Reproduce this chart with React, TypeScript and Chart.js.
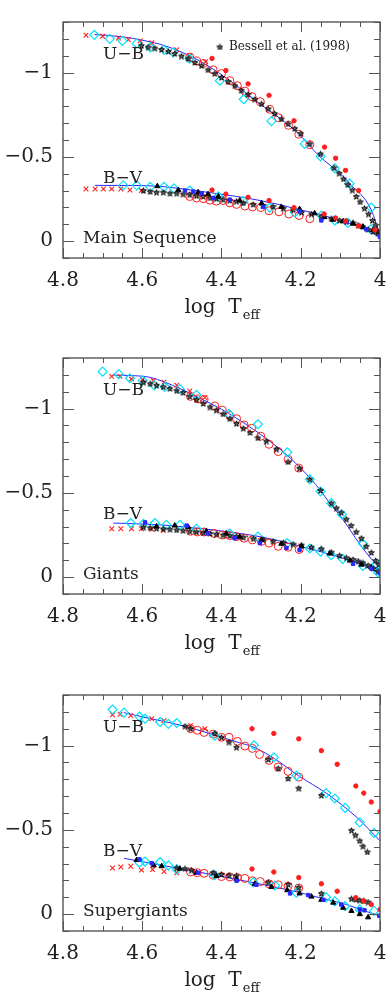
import React, { useEffect, useRef } from 'react';
import { Chart, registerables } from 'chart.js';
Chart.register(...registerables);

const FONT = '"DejaVu Serif", serif';
const RED = 'rgb(255,30,30)';
const CYAN = 'rgb(0,225,250)';
const BLUE = 'rgb(40,40,255)';
const FRAME = '#555';
const TEXT = '#222';

// ---------- axis ticks ----------
const xTickValues = [4.0, 4.05, 4.1, 4.15, 4.2, 4.25, 4.3, 4.35, 4.4, 4.45, 4.5, 4.55, 4.6, 4.65, 4.7, 4.75, 4.8];
const xLabeledTicks = [4.8, 4.6, 4.4, 4.2, 4.0];
const yTickValues = [-1.3, -1.2, -1.1, -1.0, -0.9, -0.8, -0.7, -0.6, -0.5, -0.4, -0.3, -0.2, -0.1, 0, 0.1];
const yLabeledTicks = [-1, -0.5, 0];

// ---------- Main Sequence ----------
const msUBLine = [[4.72,-1.226],[4.65,-1.212],[4.60,-1.192],[4.555,-1.168],[4.505,-1.126],[4.455,-1.069],[4.404,-0.994],[4.354,-0.908],[4.303,-0.814],[4.253,-0.73],[4.207,-0.64],[4.152,-0.502],[4.10,-0.40],[4.076,-0.341],[4.022,-0.185],[4.0,-0.03]];
const msUBCross = [[4.742,-1.221],[4.70,-1.215],[4.66,-1.205],[4.635,-1.196],[4.605,-1.188],[4.576,-1.177],[4.513,-1.135],[4.48,-1.098],[4.44,-1.064]];
const msUBDiamond = [[4.721,-1.224],[4.682,-1.20],[4.65,-1.188],[4.614,-1.173],[4.58,-1.149],[4.545,-1.135],[4.522,-1.12],[4.481,-1.082],[4.404,-0.952],[4.344,-0.842],[4.274,-0.712],[4.19,-0.577],[4.15,-0.502],[4.114,-0.432],[4.077,-0.341],[4.022,-0.199]];
const msUBCircle = [[4.48,-1.092],[4.463,-1.069],[4.446,-1.054],[4.421,-1.016],[4.40,-0.994],[4.379,-0.952],[4.36,-0.922],[4.341,-0.89],[4.323,-0.857],[4.302,-0.827],[4.278,-0.782],[4.256,-0.732],[4.231,-0.687],[4.205,-0.634],[4.177,-0.572]];
const msUBFilled = [[4.424,-1.084],[4.389,-1.012],[4.333,-0.933],[4.28,-0.865],[4.217,-0.714],[4.14,-0.558],[4.112,-0.492],[4.087,-0.42],[4.054,-0.30]];
const msUBStar = [[4.602,-1.16],[4.585,-1.151],[4.568,-1.145],[4.551,-1.137],[4.534,-1.126],[4.518,-1.113],[4.501,-1.098],[4.484,-1.082],[4.467,-1.06],[4.45,-1.041],[4.434,-1.016],[4.417,-0.994],[4.40,-0.971],[4.383,-0.946],[4.366,-0.922],[4.35,-0.895],[4.333,-0.871],[4.316,-0.842],[4.299,-0.814],[4.282,-0.785],[4.266,-0.757],[4.249,-0.725],[4.232,-0.695],[4.215,-0.668],[4.20,-0.638],[4.177,-0.577],[4.15,-0.517],[4.116,-0.435],[4.103,-0.403],[4.092,-0.369],[4.081,-0.335],[4.07,-0.303],[4.06,-0.265],[4.05,-0.233],[4.039,-0.195],[4.029,-0.161],[4.019,-0.123],[4.011,-0.095],[4.004,-0.057]];

const msBVLine = [[4.72,-0.331],[4.62,-0.33],[4.555,-0.325],[4.505,-0.312],[4.40,-0.278],[4.337,-0.256],[4.26,-0.22],[4.203,-0.186],[4.15,-0.158],[4.102,-0.123],[4.043,-0.078],[4.0,-0.022]];
const msBVCross = [[4.742,-0.309],[4.719,-0.309],[4.698,-0.309],[4.677,-0.309],[4.654,-0.309],[4.631,-0.303],[4.602,-0.30]];
const msBVDiamond = [[4.648,-0.331],[4.614,-0.331],[4.58,-0.322],[4.545,-0.322],[4.52,-0.313],[4.48,-0.30],[4.408,-0.265],[4.345,-0.237],[4.278,-0.199],[4.215,-0.171],[4.148,-0.152],[4.114,-0.123],[4.081,-0.108],[4.023,-0.07]];
const msBVCircle = [[4.48,-0.265],[4.463,-0.256],[4.446,-0.252],[4.429,-0.243],[4.413,-0.237],[4.396,-0.241],[4.379,-0.227],[4.362,-0.218],[4.341,-0.208],[4.322,-0.203],[4.301,-0.199],[4.28,-0.18],[4.255,-0.174],[4.23,-0.161],[4.204,-0.152],[4.177,-0.133]];
const msBVFilled = [[4.424,-0.303],[4.389,-0.279],[4.333,-0.26],[4.28,-0.241],[4.217,-0.199],[4.141,-0.161],[4.112,-0.137],[4.087,-0.119],[4.054,-0.09],[4.013,-0.067]];
const msBVTri = [[4.562,-0.326],[4.509,-0.303],[4.459,-0.29],[4.434,-0.279],[4.408,-0.265],[4.354,-0.241],[4.299,-0.224],[4.249,-0.203],[4.203,-0.19],[4.165,-0.165],[4.14,-0.142],[4.118,-0.127],[4.093,-0.118],[4.068,-0.104],[4.043,-0.085],[4.017,-0.067]];
const msBVSquare = [[4.492,-0.30],[4.471,-0.294],[4.45,-0.284],[4.421,-0.256],[4.379,-0.246],[4.295,-0.203],[4.203,-0.176],[4.148,-0.123],[4.085,-0.112],[4.035,-0.07],[4.0,-0.025]];
const msBVStar = [[4.597,-0.30],[4.58,-0.294],[4.564,-0.29],[4.547,-0.29],[4.53,-0.284],[4.513,-0.284],[4.497,-0.279],[4.48,-0.275],[4.463,-0.269],[4.446,-0.265],[4.429,-0.256],[4.413,-0.252],[4.396,-0.246],[4.379,-0.241],[4.362,-0.237],[4.345,-0.227],[4.32,-0.218],[4.295,-0.212],[4.27,-0.205],[4.244,-0.195],[4.219,-0.186],[4.198,-0.171],[4.173,-0.161],[4.148,-0.146],[4.123,-0.133],[4.102,-0.123],[4.085,-0.119],[4.068,-0.108],[4.055,-0.095],[4.043,-0.085],[4.03,-0.07],[4.017,-0.057],[4.005,-0.048]];

// ---------- Giants ----------
const giUBLine = [[4.673,-1.198],[4.62,-1.195],[4.58,-1.185],[4.505,-1.119],[4.455,-1.062],[4.40,-0.996],[4.329,-0.892],[4.253,-0.76],[4.20,-0.646],[4.15,-0.514],[4.127,-0.439],[4.10,-0.363],[4.05,-0.193],[4.018,-0.098],[4.0,-0.06]];
const giUBCross = [[4.677,-1.191],[4.656,-1.191],[4.627,-1.176],[4.599,-1.172],[4.572,-1.166],[4.545,-1.157],[4.513,-1.138],[4.48,-1.104],[4.442,-1.066]];
const giUBDiamond = [[4.70,-1.219],[4.659,-1.204],[4.631,-1.18],[4.599,-1.166],[4.57,-1.138],[4.543,-1.129],[4.505,-1.115],[4.463,-1.081],[4.381,-0.968],[4.308,-0.907],[4.234,-0.741],[4.177,-0.58],[4.15,-0.508],[4.123,-0.439],[4.096,-0.372],[4.043,-0.198],[4.009,-0.079]];
const giUBCircle = [[4.478,-1.072],[4.459,-1.057],[4.444,-1.053],[4.417,-1.015],[4.398,-0.991],[4.379,-0.958],[4.362,-0.94],[4.343,-0.902],[4.324,-0.883],[4.301,-0.836],[4.28,-0.788],[4.257,-0.745],[4.232,-0.699],[4.205,-0.647]];
const giUBStar = [[4.597,-1.157],[4.58,-1.147],[4.564,-1.138],[4.547,-1.129],[4.53,-1.119],[4.513,-1.106],[4.497,-1.095],[4.48,-1.072],[4.463,-1.053],[4.446,-1.03],[4.429,-1.009],[4.413,-0.991],[4.396,-0.968],[4.379,-0.94],[4.362,-0.911],[4.345,-0.883],[4.328,-0.858],[4.308,-0.826],[4.287,-0.807],[4.261,-0.76],[4.232,-0.684],[4.203,-0.646],[4.177,-0.58],[4.15,-0.514],[4.123,-0.439],[4.11,-0.41],[4.098,-0.382],[4.085,-0.344],[4.073,-0.306],[4.06,-0.268],[4.047,-0.231],[4.035,-0.183],[4.022,-0.146],[4.011,-0.098],[4.003,-0.076]];

const giBVLine = [[4.673,-0.321],[4.555,-0.31],[4.488,-0.297],[4.40,-0.274],[4.303,-0.24],[4.20,-0.183],[4.10,-0.117],[4.05,-0.079],[4.0,-0.019]];
const giBVCross = [[4.677,-0.287],[4.654,-0.287],[4.627,-0.287],[4.602,-0.287],[4.576,-0.284],[4.547,-0.276]];
const giBVDiamond = [[4.629,-0.321],[4.597,-0.316],[4.568,-0.321],[4.539,-0.31],[4.505,-0.31],[4.463,-0.287],[4.379,-0.259],[4.308,-0.24],[4.234,-0.202],[4.177,-0.17],[4.15,-0.151],[4.123,-0.13],[4.094,-0.108],[4.043,-0.066],[4.005,-0.028]];
const giBVCircle = [[4.478,-0.272],[4.461,-0.268],[4.444,-0.268],[4.419,-0.259],[4.398,-0.25],[4.379,-0.246],[4.362,-0.24],[4.343,-0.231],[4.322,-0.221],[4.299,-0.212],[4.28,-0.202],[4.257,-0.183],[4.232,-0.178],[4.204,-0.164]];
const giBVTri = [[4.564,-0.301],[4.518,-0.306],[4.484,-0.297],[4.438,-0.272],[4.388,-0.259],[4.354,-0.24],[4.299,-0.221],[4.249,-0.198],[4.198,-0.183],[4.127,-0.14],[4.076,-0.098],[4.047,-0.074],[4.022,-0.057]];
const giBVSquare = [[4.593,-0.325],[4.488,-0.306],[4.434,-0.259],[4.367,-0.231],[4.303,-0.202],[4.236,-0.174],[4.203,-0.161],[4.068,-0.079],[4.022,-0.051],[4.0,-0.023]];
const giBVStar = [[4.597,-0.297],[4.58,-0.293],[4.564,-0.29],[4.547,-0.287],[4.53,-0.284],[4.513,-0.28],[4.497,-0.276],[4.48,-0.272],[4.463,-0.268],[4.446,-0.264],[4.429,-0.259],[4.413,-0.255],[4.396,-0.25],[4.379,-0.246],[4.362,-0.242],[4.345,-0.236],[4.32,-0.228],[4.295,-0.222],[4.27,-0.213],[4.244,-0.205],[4.219,-0.196],[4.198,-0.19],[4.173,-0.178],[4.148,-0.168],[4.123,-0.148],[4.102,-0.128],[4.085,-0.115],[4.068,-0.105],[4.055,-0.095],[4.043,-0.085],[4.03,-0.07],[4.017,-0.052],[4.005,-0.035]];

// ---------- Supergiants ----------
const sgUBLine = [[4.646,-1.195],[4.58,-1.16],[4.505,-1.122],[4.421,-1.065],[4.36,-1.02],[4.318,-0.99],[4.268,-0.925],[4.205,-0.82],[4.136,-0.718],[4.06,-0.577],[4.0,-0.435]];
const sgUBCross = [[4.675,-1.182],[4.656,-1.186],[4.629,-1.178],[4.576,-1.159],[4.545,-1.148],[4.478,-1.119],[4.442,-1.10]];
const sgUBDiamond = [[4.675,-1.214],[4.646,-1.195],[4.607,-1.172],[4.593,-1.159],[4.555,-1.14],[4.534,-1.129],[4.513,-1.134],[4.417,-1.059],[4.318,-1.002],[4.268,-0.93],[4.211,-0.822],[4.136,-0.718],[4.114,-0.686],[4.088,-0.63],[4.051,-0.544],[4.015,-0.482]];
const sgUBCircle = [[4.478,-1.10],[4.461,-1.091],[4.444,-1.078],[4.421,-1.068],[4.40,-1.049],[4.381,-1.049],[4.36,-1.025],[4.341,-0.997],[4.322,-0.983],[4.304,-0.947],[4.28,-0.912],[4.257,-0.873],[4.232,-0.847],[4.205,-0.813]];
const sgUBFilled = [[4.323,-1.10],[4.268,-1.072],[4.205,-1.04],[4.148,-0.97],[4.108,-0.889],[4.061,-0.76],[4.041,-0.718],[4.022,-0.665],[4.0,-0.609]];
const sgUBStar = [[4.492,-1.115],[4.478,-1.10],[4.417,-1.072],[4.40,-1.049],[4.381,-1.021],[4.362,-0.99],[4.282,-0.918],[4.257,-0.865],[4.232,-0.805],[4.205,-0.747],[4.148,-0.705],[4.072,-0.497],[4.062,-0.469],[4.051,-0.435],[4.043,-0.403],[4.032,-0.369]];

const sgBVLine = [[4.646,-0.331],[4.58,-0.303],[4.505,-0.27],[4.413,-0.23],[4.316,-0.185],[4.234,-0.145],[4.148,-0.095],[4.085,-0.057],[4.034,-0.015],[4.0,0.01]];
const sgBVCross = [[4.675,-0.274],[4.654,-0.28],[4.629,-0.284],[4.602,-0.261],[4.574,-0.265],[4.545,-0.253],[4.513,-0.246]];
const sgBVDiamond = [[4.607,-0.306],[4.593,-0.312],[4.555,-0.308],[4.534,-0.289],[4.513,-0.265],[4.417,-0.231],[4.32,-0.189],[4.265,-0.17],[4.211,-0.127],[4.136,-0.10],[4.114,-0.076],[4.088,-0.047],[4.051,-0.028],[4.015,-0.019]];
const sgBVCircle = [[4.478,-0.25],[4.461,-0.246],[4.444,-0.242],[4.421,-0.231],[4.40,-0.223],[4.379,-0.221],[4.36,-0.217],[4.341,-0.212],[4.322,-0.198],[4.302,-0.193],[4.28,-0.18],[4.257,-0.174],[4.232,-0.166],[4.205,-0.155]];
const sgBVFilled = [[4.323,-0.268],[4.268,-0.25],[4.205,-0.217],[4.148,-0.18],[4.108,-0.136],[4.061,-0.098],[4.041,-0.079],[4.022,-0.057],[4.0,-0.028]];
const sgBVTri = [[4.614,-0.321],[4.571,-0.289],[4.551,-0.284],[4.505,-0.27],[4.463,-0.246],[4.413,-0.227],[4.362,-0.208],[4.316,-0.18],[4.274,-0.161],[4.234,-0.142],[4.203,-0.123],[4.173,-0.104],[4.148,-0.085],[4.118,-0.068],[4.093,-0.038],[4.072,-0.019],[4.051,0.0],[4.03,0.019]];
const sgBVSquare = [[4.607,-0.325],[4.576,-0.302],[4.459,-0.246],[4.362,-0.198],[4.312,-0.174],[4.227,-0.123],[4.181,-0.113],[4.143,-0.085],[4.098,-0.057],[4.051,-0.028],[4.039,-0.023],[4.002,0.009]];
const sgBVStar = [[4.513,-0.274],[4.492,-0.27],[4.476,-0.261],[4.421,-0.246],[4.40,-0.236],[4.381,-0.231],[4.362,-0.227],[4.282,-0.189],[4.232,-0.176],[4.205,-0.159],[4.148,-0.123],[4.072,-0.091],[4.061,-0.087],[4.051,-0.083],[4.041,-0.078],[4.03,-0.072]];

// ---------- panel text (data coordinates) ----------
const ubLabelPos = [4.699, -1.107];
const bvLabelPos = [4.699, -0.372];
const panelLabelPos = [4.7495, -0.018];
const legendPos = [4.404, -1.152];
const panelNames = ['Main Sequence', 'Giants', 'Supergiants'];

const PANELS = [
  {
    top: 0, height: 336, name: panelNames[0], legend: true,
    lines: [msUBLine, msBVLine], cross: [msUBCross, msBVCross], diamond: [msUBDiamond, msBVDiamond],
    circle: [msUBCircle, msBVCircle], filled: [msUBFilled, msBVFilled], tri: [msBVTri], square: [msBVSquare], star: [msUBStar, msBVStar],
  },
  {
    top: 336, height: 337, name: panelNames[1], legend: false,
    lines: [giUBLine, giBVLine], cross: [giUBCross, giBVCross], diamond: [giUBDiamond, giBVDiamond],
    circle: [giUBCircle, giBVCircle], filled: [], tri: [giBVTri], square: [giBVSquare], star: [giUBStar, giBVStar],
  },
  {
    top: 673, height: 330, name: panelNames[2], legend: false,
    lines: [sgUBLine, sgBVLine], cross: [sgUBCross, sgBVCross], diamond: [sgUBDiamond, sgBVDiamond],
    circle: [sgUBCircle, sgBVCircle], filled: [sgUBFilled, sgBVFilled], tri: [sgBVTri], square: [sgBVSquare], star: [sgUBStar, sgBVStar],
  },
];

const PLOT_TOP = 12;
const PLOT_BOTTOM = 258;
const PLOT_LEFT = 63;
const PLOT_RIGHT = 380;

function toPts(arr: number[][]) {
  return arr.map(([x, y]) => ({ x, y }));
}

function makeStar(size: number, color: string) {
  const c = document.createElement('canvas');
  c.width = size; c.height = size;
  const g = c.getContext('2d')!;
  const cx = size / 2, cy = size / 2 + 0.3;
  const R = size / 2 - 0.5, r = R * 0.42;
  g.beginPath();
  for (let i = 0; i < 10; i++) {
    const a = -Math.PI / 2 + (i * Math.PI) / 5;
    const rad = i % 2 === 0 ? R : r;
    const px = cx + Math.cos(a) * rad, py = cy + Math.sin(a) * rad;
    if (i === 0) g.moveTo(px, py); else g.lineTo(px, py);
  }
  g.closePath();
  g.fillStyle = 'rgba(60,60,60,0.75)';
  g.fill();
  g.strokeStyle = color; g.lineWidth = 1; g.stroke();
  return c;
}

function near(list: number[], v: number) {
  return list.find((t) => Math.abs(t - v) < 1e-6);
}
function fmtNum(m: number) {
  return (m < 0 ? '\u2212' : '') + String(Math.abs(m));
}

const framePlugin = {
  id: 'frame',
  afterDraw(chart: any, _args: any, opts: any) {
    const { ctx, chartArea: a } = chart;
    const xs = chart.scales.x, ys = chart.scales.y;
    ctx.save();
    ctx.strokeStyle = FRAME;
    ctx.lineWidth = 1;
    ctx.beginPath();
    xs.ticks.forEach((t: any) => {
      const px = Math.round(xs.getPixelForValue(t.value)) + 0.5;
      const L = near(xLabeledTicks, t.value) !== undefined ? 10 : 5;
      ctx.moveTo(px, a.bottom); ctx.lineTo(px, a.bottom - L);
      ctx.moveTo(px, a.top); ctx.lineTo(px, a.top + L);
    });
    ys.ticks.forEach((t: any) => {
      const py = Math.round(ys.getPixelForValue(t.value)) + 0.5;
      const L = near(yLabeledTicks, t.value) !== undefined ? 11 : 6;
      ctx.moveTo(a.left, py); ctx.lineTo(a.left + L, py);
      ctx.moveTo(a.right, py); ctx.lineTo(a.right - L, py);
    });
    ctx.stroke();
    ctx.lineWidth = 1.4;
    ctx.strokeRect(a.left, a.top, a.right - a.left, a.bottom - a.top);

    ctx.fillStyle = TEXT;
    ctx.textBaseline = 'middle';
    ctx.textAlign = 'left';
    ctx.font = `17px ${FONT}`;
    ctx.fillText('U\u2212B', xs.getPixelForValue(ubLabelPos[0]), ys.getPixelForValue(ubLabelPos[1]));
    ctx.fillText('B\u2212V', xs.getPixelForValue(bvLabelPos[0]), ys.getPixelForValue(bvLabelPos[1]));
    ctx.fillText(opts.name, xs.getPixelForValue(panelLabelPos[0]), ys.getPixelForValue(panelLabelPos[1]));

    if (opts.legend) {
      const lx = xs.getPixelForValue(legendPos[0]);
      const ly = ys.getPixelForValue(legendPos[1]);
      ctx.drawImage(opts.starImg, lx - 3.5, ly - 3.5);
      ctx.font = `12px ${FONT}`;
      ctx.fillText('Bessell et al. (1998)', lx + 9, ly);
    }

    // x-axis title: log T_eff
    ctx.font = `20px ${FONT}`;
    const main = 'log  T';
    const wMain = ctx.measureText(main).width;
    ctx.font = `13px ${FONT}`;
    const wSub = ctx.measureText('eff').width;
    const cx = (a.left + a.right) / 2;
    const x0 = cx - (wMain + wSub) / 2;
    const ty = a.bottom + 50;
    ctx.font = `20px ${FONT}`;
    ctx.fillText(main, x0, ty);
    ctx.font = `13px ${FONT}`;
    ctx.fillText('eff', x0 + wMain + 1, ty + 8);
    ctx.restore();
  },
};

function buildDatasets(p: any, starImg: HTMLCanvasElement) {
  const ds: any[] = [];
  p.lines.forEach((l: number[][]) =>
    ds.push({ data: toPts(l), showLine: true, borderColor: BLUE, borderWidth: 1, pointRadius: 0, tension: 0.4, cubicInterpolationMode: 'monotone', order: 10 })
  );
  p.circle.forEach((d: number[][]) =>
    ds.push({ data: toPts(d), pointStyle: 'circle', pointRadius: 4, borderColor: RED, backgroundColor: 'rgba(0,0,0,0)', borderWidth: 1, order: 8 })
  );
  p.cross.forEach((d: number[][]) =>
    ds.push({ data: toPts(d), pointStyle: 'crossRot', pointRadius: 3.3, borderColor: RED, backgroundColor: RED, borderWidth: 1.1, order: 7 })
  );
  p.diamond.forEach((d: number[][]) =>
    ds.push({ data: toPts(d), pointStyle: 'rectRot', pointRadius: 4.5, borderColor: CYAN, backgroundColor: 'rgba(0,0,0,0)', borderWidth: 1.2, order: 6 })
  );
  p.star.forEach((d: number[][]) =>
    ds.push({ data: toPts(d), pointStyle: starImg, pointRadius: 3.5, order: 5 })
  );
  p.tri.forEach((d: number[][]) =>
    ds.push({ data: toPts(d), pointStyle: 'triangle', pointRadius: 3, borderColor: '#000', backgroundColor: '#000', borderWidth: 1, order: 4 })
  );
  p.square.forEach((d: number[][]) =>
    ds.push({ data: toPts(d), pointStyle: 'rect', pointRadius: 2.4, borderColor: BLUE, backgroundColor: BLUE, borderWidth: 1, order: 3 })
  );
  p.filled.forEach((d: number[][]) =>
    ds.push({ data: toPts(d), pointStyle: 'circle', pointRadius: 2.2, borderColor: RED, backgroundColor: RED, borderWidth: 1, order: 2 })
  );
  return ds;
}

function Panel({ p }: { p: any }) {
  const ref = useRef<HTMLCanvasElement>(null);
  useEffect(() => {
    const starImg = makeStar(7, '#000');
    const chart = new Chart(ref.current!, {
      type: 'scatter',
      data: { datasets: buildDatasets(p, starImg) },
      options: {
        animation: false,
        responsive: false,
        events: [],
        layout: { padding: { left: 0, top: PLOT_TOP, right: 392 - PLOT_RIGHT, bottom: 0 } },
        plugins: {
          legend: { display: false },
          tooltip: { enabled: false },
          frame: { name: p.name, legend: p.legend, starImg },
        } as any,
        scales: {
          x: {
            type: 'linear', min: 4.0, max: 4.8, reverse: true,
            afterBuildTicks: (sc: any) => { sc.ticks = xTickValues.map((v) => ({ value: v })); },
            afterFit: (sc: any) => { sc.height = p.height - PLOT_BOTTOM; },
            grid: { display: false, drawTicks: false },
            border: { display: false },
            ticks: {
              autoSkip: false, maxRotation: 0, padding: 11, color: TEXT,
              font: { family: FONT, size: 20 },
              callback: (v: any) => { const m = near(xLabeledTicks, Number(v)); return m === undefined ? '' : fmtNum(m); },
            },
          },
          y: {
            type: 'linear', min: -1.3, max: 0.1, reverse: true,
            afterBuildTicks: (sc: any) => { sc.ticks = yTickValues.map((v) => ({ value: v })); },
            afterFit: (sc: any) => { sc.width = PLOT_LEFT; },
            grid: { display: false, drawTicks: false },
            border: { display: false },
            ticks: {
              autoSkip: false, padding: 10, color: TEXT,
              font: { family: FONT, size: 20 },
              callback: (v: any) => { const m = near(yLabeledTicks, Number(v)); return m === undefined ? '' : fmtNum(m); },
            },
          },
        } as any,
      },
      plugins: [framePlugin as any],
    } as any);
    return () => chart.destroy();
  }, [p]);
  return (
    <canvas
      ref={ref}
      width={392}
      height={p.height}
      style={{ position: 'absolute', left: 0, top: p.top, width: 392, height: p.height, display: 'block' }}
    />
  );
}

export default function App() {
  return (
    <div style={{ position: 'absolute', left: 0, top: 0, width: 392, height: 1003, background: '#fff' }}>
      {PANELS.map((p, i) => (
        <Panel key={i} p={p} />
      ))}
    </div>
  );
}
